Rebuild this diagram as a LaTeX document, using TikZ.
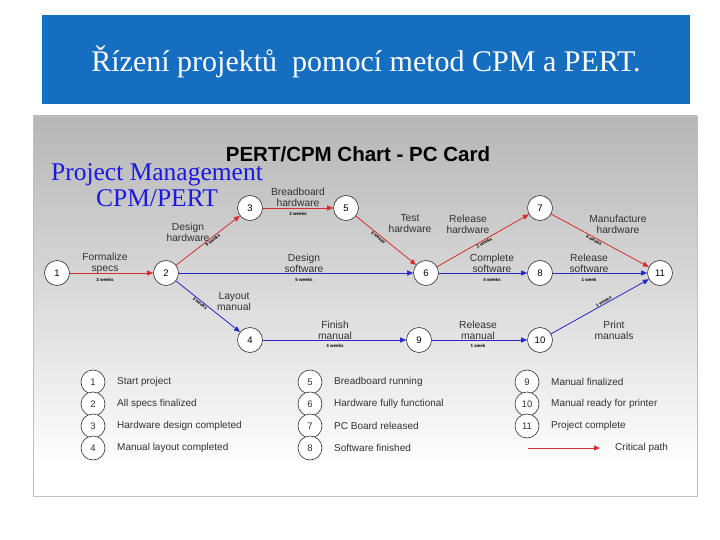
\documentclass[tikz,border=0pt]{standalone}
\usepackage{fontspec}
\setmainfont{Liberation Sans}
\newfontfamily\serifft{Liberation Serif}
\usetikzlibrary{arrows.meta}
\definecolor{banner}{RGB}{22,110,192}
\definecolor{crit}{RGB}{215,45,45}
\definecolor{norm}{RGB}{40,40,200}
\definecolor{ptitle}{RGB}{25,25,225}
\definecolor{txt}{RGB}{50,50,50}
\tikzset{
  ev/.style={circle,draw=black!80,fill=white,line width=0.6pt,minimum size=25pt,inner sep=0pt,font=\fontsize{9.5}{9.5}\selectfont},
  act/.style={align=center,font=\fontsize{10.3}{11}\selectfont,text=txt,inner sep=0pt},
  wk/.style={font=\fontsize{4.5}{5}\bfseries\selectfont,inner sep=0.5pt},
  critedge/.style={draw=crit,line width=0.8pt,-{Triangle[length=6pt,width=5pt]}},
  normedge/.style={draw=norm,line width=0.8pt,-{Triangle[length=6pt,width=5pt]}},
  lg/.style={circle,draw=black!80,fill=white,line width=0.6pt,minimum size=24pt,inner sep=0pt,font=\fontsize{9.5}{9.5}\selectfont,text=txt},
  lgt/.style={anchor=west,font=\fontsize{10}{10}\selectfont,text=txt,inner sep=0pt}
}
\begin{document}
\begin{tikzpicture}[x=1pt,y=-1pt]
\useasboundingbox (0,0) rectangle (720,540);
\fill[white] (0,0) rectangle (720,540);
% banner
\fill[banner] (42,15) rectangle (690,104);
\node[text=white,font=\serifft\fontsize{30}{32}\selectfont] (bt) at (366,62) {Řízení projektů\ \ pomocí metod CPM a PERT.};
% panel
\shade[top color={rgb,255:red,182;green,182;blue,182},bottom color=white,middle color={rgb,255:red,218;green,218;blue,218}] (33,116) rectangle (697,470);
\fill[white] (33,470) rectangle (697,496);
\draw[black!25,line width=0.6pt] (33,116) rectangle (697,496);
% titles
\node[font=\bfseries\fontsize{20.5}{21}\selectfont] (ct) at (358,154) {PERT/CPM Chart - PC Card};
\node[font=\serifft\fontsize{25.5}{26}\selectfont,text=ptitle] (pm1) at (157,175) {Project Management};
\node[font=\serifft\fontsize{25.5}{26}\selectfont,text=ptitle] (pm2) at (157,198) {CPM/PERT};
% events
\node[ev] (n1) at (57,273) {1};
\node[ev] (n2) at (166,273) {2};
\node[ev] (n3) at (250,208) {3};
\node[ev] (n4) at (250,340) {4};
\node[ev] (n5) at (346,208) {5};
\node[ev] (n6) at (426,273) {6};
\node[ev] (n7) at (540,208) {7};
\node[ev] (n8) at (540,273) {8};
\node[ev] (n9) at (419,340) {9};
\node[ev] (n10) at (540,340) {10};
\node[ev] (n11) at (660,273) {11};
% activities
\draw[critedge] (n1) -- (n2);
\draw[critedge] (n2) -- node[wk,sloped,below,pos=0.55]{6 weeks} (n3);
\draw[critedge] (n3) -- (n5);
\draw[critedge] (n5) -- node[wk,sloped,below,pos=0.4]{3 weeks} (n6);
\draw[critedge] (n6) -- node[wk,sloped,below,pos=0.5]{2 weeks} (n7);
\draw[critedge] (n7) -- node[wk,sloped,below,pos=0.45]{4 weeks} (n11);
\draw[normedge] (n2) -- (n6);
\draw[normedge] (n6) -- (n8);
\draw[normedge] (n8) -- (n11);
\draw[normedge] (n2) -- node[wk,sloped,below,pos=0.4]{3 weeks} (n4);
\draw[normedge] (n4) -- (n9);
\draw[normedge] (n9) -- (n10);
\draw[normedge] (n10) -- node[wk,sloped,above,pos=0.55]{1 weeks} (n11);
% activity labels
\node[act] (a12) at (105,263) {Formalize\\specs};
\node[wk] (w12) at (105,280) {3 weeks};
\node[act] (a23) at (188,232) {Design\\hardware};
\node[act] (a35) at (298,197) {Breadboard\\hardware};
\node[wk] (w35) at (298,214) {2 weeks};
\node[act] (a56) at (410,224) {Test\\hardware};
\node[act] (a67) at (468,224) {Release\\hardware};
\node[act] (a711) at (618,224) {Manufacture\\hardware};
\node[act] (a26) at (304,263) {Design\\software};
\node[wk] (w26) at (304,280) {5 weeks};
\node[act] (a68) at (492,263) {Complete\\software};
\node[wk] (w68) at (492,280) {4 weeks};
\node[act] (a811) at (589,263) {Release\\software};
\node[wk] (w811) at (589,280) {1 week};
\node[act] (a24) at (234,302) {Layout\\manual};
\node[act] (a49) at (335,330) {Finish\\manual};
\node[wk] (w49) at (335,346) {4 weeks};
\node[act] (a910) at (478,330) {Release\\manual};
\node[wk] (w910) at (478,346) {1 week};
\node[act] (a1011) at (614,330) {Print\\manuals};
% legend
\node[lg] (l1) at (93,382) {1};  \node[lgt] (t1) at (117,382) {Start project};
\node[lg] (l2) at (93,404) {2};  \node[lgt] (t2) at (117,404) {All specs finalized};
\node[lg] (l3) at (93,426) {3};  \node[lgt] (t3) at (117,426) {Hardware design completed};
\node[lg] (l4) at (93,448) {4};  \node[lgt] (t4) at (117,448) {Manual layout completed};
\node[lg] (l5) at (310,382) {5}; \node[lgt] (t5) at (334,382) {Breadboard running};
\node[lg] (l6) at (310,404) {6}; \node[lgt] (t6) at (334,404) {Hardware fully functional};
\node[lg] (l7) at (310,426) {7}; \node[lgt] (t7) at (334,426) {PC Board released};
\node[lg] (l8) at (310,448) {8}; \node[lgt] (t8) at (334,448) {Software finished};
\node[lg] (l9) at (527,382) {9}; \node[lgt] (t9) at (551,382) {Manual finalized};
\node[lg] (l10) at (527,404) {10}; \node[lgt] (t10) at (551,404) {Manual ready for printer};
\node[lg] (l11) at (527,426) {11}; \node[lgt] (t11) at (551,426) {Project complete};
\coordinate (cpa) at (528,448);
\coordinate (cpb) at (600,448);
\draw[critedge] (cpa) -- (cpb);
\node[lgt] (tcp) at (615,448) {Critical path};
\end{tikzpicture}
\end{document}
